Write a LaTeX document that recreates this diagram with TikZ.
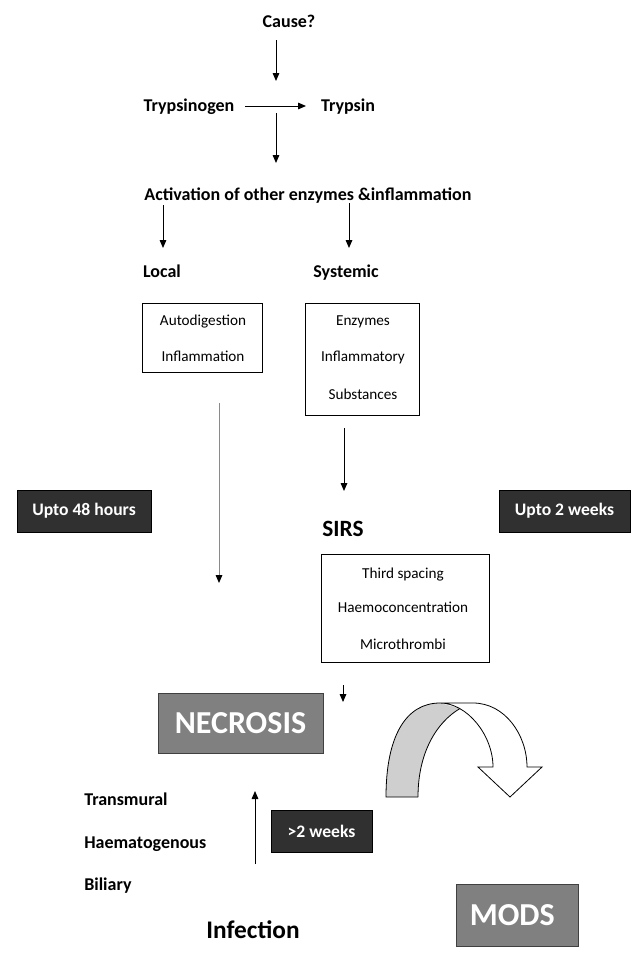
\documentclass[tikz,border=0pt]{standalone}
\usepackage{fontspec}
\setmainfont{Carlito}
\usetikzlibrary{arrows.meta}
\definecolor{darkbox}{HTML}{303030}
\definecolor{midgray}{HTML}{808080}
\definecolor{bordgray}{HTML}{404040}
\definecolor{lightband}{HTML}{CFCFCF}
\definecolor{shaftgray}{HTML}{8A8A8A}
\tikzset{
  lbl/.style={font=\bfseries\fontsize{13.5}{16}\selectfont, inner sep=0pt, anchor=base},
  sm/.style={font=\fontsize{11.4}{13}\selectfont, inner sep=0pt, anchor=base},
  frame/.style={draw=black, line width=0.6pt, inner sep=0pt},
  dbox/.style={fill=darkbox, draw=black, line width=0.6pt, text=white, inner sep=0pt,
    font=\bfseries\fontsize{13.2}{15}\selectfont, minimum height=31.5pt},
  gbox/.style={fill=midgray, draw=bordgray, line width=0.6pt, text=white, inner sep=0pt,
    font=\bfseries\fontsize{24}{28}\selectfont, minimum height=45pt},
  arr/.style={line width=0.7pt, -{Triangle[length=6pt,width=5pt]}},
}
\begin{document}
\begin{tikzpicture}[x=0.75pt, y=-0.75pt]
\useasboundingbox (0,0) rectangle (642,953);
\fill[white] (0,0) rectangle (642,953);

% text labels
\node[lbl] (cause) at (289,27) {Cause?};
\node[lbl] (tgen) at (189,111) {Trypsinogen};
\node[lbl] (tryp) at (348,111) {Trypsin};
\node[lbl] (act) at (308,200) {Activation of other enzymes \&inflammation};
\node[lbl] (local) at (162,277) {Local};
\node[lbl] (sys) at (346,277) {Systemic};

% boxes
\node[frame, minimum width=90pt, minimum height=51.75pt] (lbox) at (202,337.5) {};
\node[sm] (auto) at (203,325) {Autodigestion};
\node[sm] (infl) at (203,361) {Inflammation};

\node[frame, minimum width=85.5pt, minimum height=84pt] (sbox) at (362,359) {};
\node[sm] (enz) at (363,325) {Enzymes};
\node[sm] (inflm) at (363,361) {Inflammatory};
\node[sm] (subs) at (363,399) {Substances};

\node[font=\bfseries\fontsize{17.5}{20}\selectfont, inner sep=0pt, anchor=base] (sirs) at (343,536) {SIRS};

\node[frame, minimum width=126pt, minimum height=81pt] (xbox) at (405,608) {};
\node[sm] (third) at (403,578) {Third spacing};
\node[sm] (haemo) at (403,612) {Haemoconcentration};
\node[sm] (micro) at (403,649) {Microthrombi};

% dark boxes
\node[dbox, minimum width=100.5pt] (t48) at (84,511) {Upto 48 hours};
\node[dbox, minimum width=98.25pt] (t2w) at (564.5,511) {Upto 2 weeks};
\node[dbox, minimum width=75.75pt] (gt2) at (321.5,831) {>2 weeks};

% gray boxes
\node[gbox, minimum width=123.75pt] (necro) at (240.5,723) {NECROSIS};
\node[gbox, minimum width=91.5pt, minimum height=46.5pt] (mods) at (517,915) {\hspace*{-7pt}MODS};

% lower left labels
\node[lbl, anchor=base west] (trans) at (84,805) {Transmural};
\node[lbl, anchor=base west] (haemat) at (84,848) {Haematogenous};
\node[lbl, anchor=base west] (bil) at (84,890) {Biliary};
\node[font=\bfseries\fontsize{19}{22}\selectfont, inner sep=0pt, anchor=base] (inf) at (253,938) {Infection};

% connector end points
\coordinate (c1a) at (276,40);  \coordinate (c1b) at (276,81);
\coordinate (c2a) at (245,106); \coordinate (c2b) at (306,106);
\coordinate (c3a) at (276,113); \coordinate (c3b) at (276,163);
\coordinate (c4a) at (163,205); \coordinate (c4b) at (163,248);
\coordinate (c5a) at (349,203); \coordinate (c5b) at (349,248);
\coordinate (c6a) at (219,403); \coordinate (c6b) at (219,583);
\coordinate (c7a) at (344,428); \coordinate (c7b) at (344,491);
\coordinate (c8a) at (343,685); \coordinate (c8b) at (343,702);
\coordinate (c9a) at (255,864); \coordinate (c9b) at (255,791);

\draw[arr] (c1a) -- (c1b);
\draw[arr] (c2a) -- (c2b);
\draw[arr] (c3a) -- (c3b);
\draw[arr] (c4a) -- (c4b);
\draw[arr] (c5a) -- (c5b);
\draw[line width=0.7pt, shaftgray, -{Triangle[length=6pt,width=5pt,color=black]}] (c6a) -- (c6b);
\draw[arr] (c7a) -- (c7b);
\draw[arr] (c8a) -- (c8b);
\draw[arr] (c9a) -- (c9b);

% curved arrow
\fill[lightband] (386,797) .. controls (386,736) and (406,703) .. (440,703)
  -- (460,708.5) .. controls (437,722) and (418,752) .. (418,797) -- cycle;
\draw[line width=0.6pt] (418,797) -- (386,797) .. controls (386,736) and (406,703) .. (440,703);
\draw[line width=0.6pt] (460,708.5) .. controls (437,722) and (418,752) .. (418,797);
\draw[line width=0.6pt, fill=white, line join=miter] (440,703) -- (473,703)
  .. controls (505,703) and (527,735) .. (527,767) -- (542,767) -- (510,797) -- (478,767)
  -- (493,767) .. controls (493,735) and (467,703) .. (440,703) -- cycle;
\end{tikzpicture}
\end{document}
